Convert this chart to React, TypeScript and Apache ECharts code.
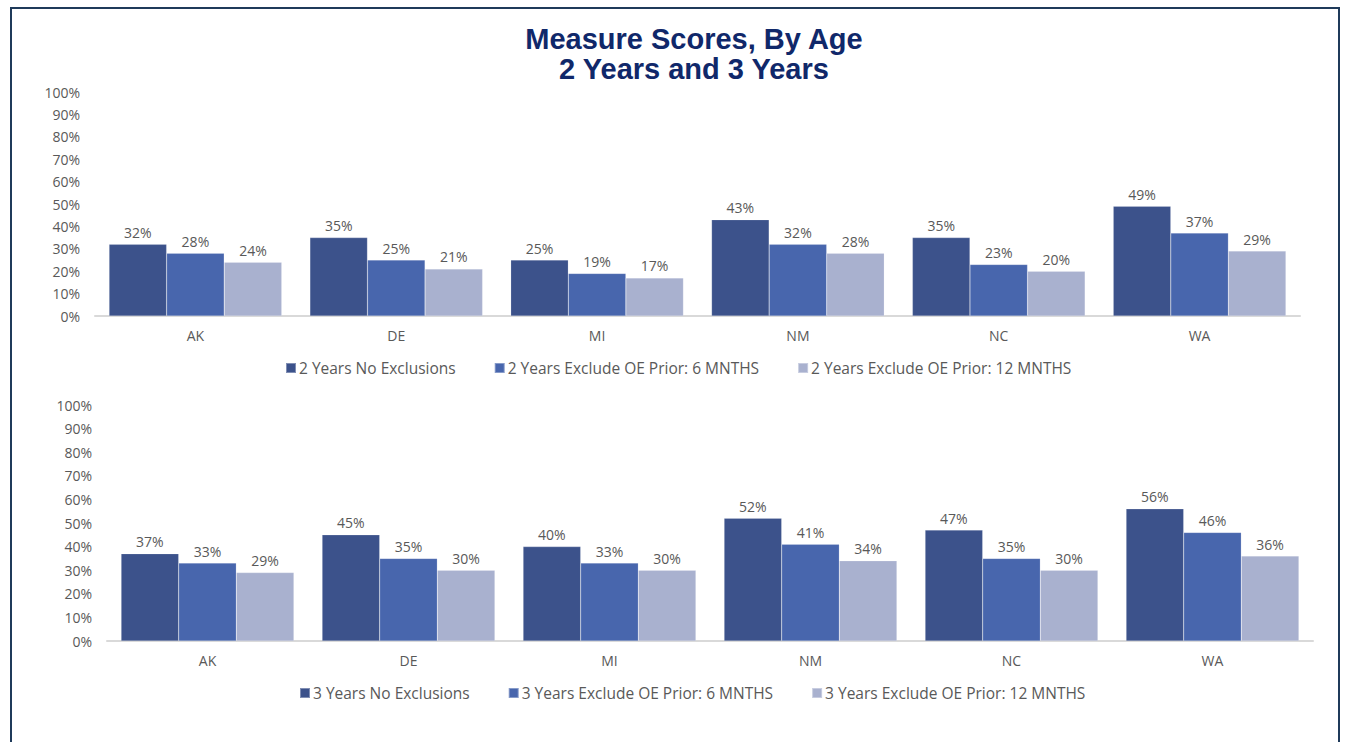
import React, { useEffect, useRef } from "react";
import * as echarts from "echarts";

const categories = ["AK", "DE", "MI", "NM", "NC", "WA"];
const seriesNames2 = [
  "2 Years No Exclusions",
  "2 Years Exclude OE Prior: 6 MNTHS",
  "2 Years Exclude OE Prior: 12 MNTHS",
];
const seriesNames3 = [
  "3 Years No Exclusions",
  "3 Years Exclude OE Prior: 6 MNTHS",
  "3 Years Exclude OE Prior: 12 MNTHS",
];
const years2NoExcl = [32, 35, 25, 43, 35, 49];
const years2Excl6 = [28, 25, 19, 32, 23, 37];
const years2Excl12 = [24, 21, 17, 28, 20, 29];
const years3NoExcl = [37, 45, 40, 52, 47, 56];
const years3Excl6 = [33, 35, 33, 41, 35, 46];
const years3Excl12 = [29, 30, 30, 34, 30, 36];
const colors = ["#3c528b", "#4866ad", "#a9b1cf"];

const FONT = "'Open Sans', Lato, sans-serif";
const GRAY = "#595959";

export default function App() {
  const ref = useRef<HTMLDivElement>(null);
  useEffect(() => {
    if (!ref.current) return;
    const chart = echarts.init(ref.current, undefined, { renderer: "svg" });
    const grids = [
      { left: 95, right: 47, top: 92, height: 224 },
      { left: 107, right: 34, top: 405, height: 236 },
    ];
    const mkX = (i: number) => ({
      type: "category",
      gridIndex: i,
      data: categories,
      axisLine: { lineStyle: { color: "#d9d9d9", width: 2 } },
      axisTick: { show: false },
      axisLabel: { color: GRAY, fontSize: 14, fontFamily: FONT, margin: 12 },
    });
    const mkY = (i: number) => ({
      type: "value",
      gridIndex: i,
      min: 0,
      max: 100,
      interval: 10,
      splitLine: { show: false },
      axisLine: { show: false },
      axisTick: { show: false },
      axisLabel: {
        color: GRAY,
        fontSize: 14,
        fontFamily: FONT,
        formatter: "{value}%",
        margin: 15,
      },
    });
    const mkSeries = (name: string, data: number[], idx: number, g: number) => ({
      type: "bar",
      name,
      data,
      xAxisIndex: g,
      yAxisIndex: g,
      barGap: "0%",
      barCategoryGap: "14%",
      itemStyle: { color: colors[idx], borderColor: "rgba(255,255,255,0.35)", borderWidth: 0.5 },
      label: {
        show: true,
        position: "top",
        distance: 5,
        color: GRAY,
        fontSize: 14,
        fontFamily: FONT,
        formatter: (p: any) => p.value + "%",
      },
    });
    const legendBase = {
      itemWidth: 10,
      itemHeight: 10,
      itemGap: 38,
      icon: "rect",
      textStyle: { color: GRAY, fontSize: 15.5, fontFamily: FONT, padding: [0, 0, 0, -2] },
    };
    chart.setOption({
      animation: false,
      backgroundColor: "#ffffff",
      title: {
        text: "Measure Scores, By Age\n2 Years and 3 Years",
        left: 689,
        textAlign: "center",
        top: 19,
        textStyle: {
          color: "#10286a",
          fontSize: 29,
          fontWeight: "bold",
          fontFamily: "'Liberation Sans', Arial, sans-serif",
          lineHeight: 30,
        },
      },
      graphic: [
        {
          type: "rect",
          shape: { x: 11, y: 8, width: 1328, height: 760 },
          style: { fill: "none", stroke: "#1f3a5a", lineWidth: 2 },
          silent: true,
        },
      ],
      grid: grids,
      xAxis: [mkX(0), mkX(1)],
      yAxis: [mkY(0), mkY(1)],
      legend: [
        { ...legendBase, data: seriesNames2, left: 280, top: 355 },
        { ...legendBase, data: seriesNames3, left: 294, top: 680 },
      ],
      series: [
        mkSeries(seriesNames2[0], years2NoExcl, 0, 0),
        mkSeries(seriesNames2[1], years2Excl6, 1, 0),
        mkSeries(seriesNames2[2], years2Excl12, 2, 0),
        mkSeries(seriesNames3[0], years3NoExcl, 0, 1),
        mkSeries(seriesNames3[1], years3Excl6, 1, 1),
        mkSeries(seriesNames3[2], years3Excl12, 2, 1),
      ],
    });
    return () => chart.dispose();
  }, []);
  return (
    <div
      ref={ref}
      style={{ position: "fixed", left: 0, top: 0, width: 1347, height: 742, background: "#fff" }}
    />
  );
}
